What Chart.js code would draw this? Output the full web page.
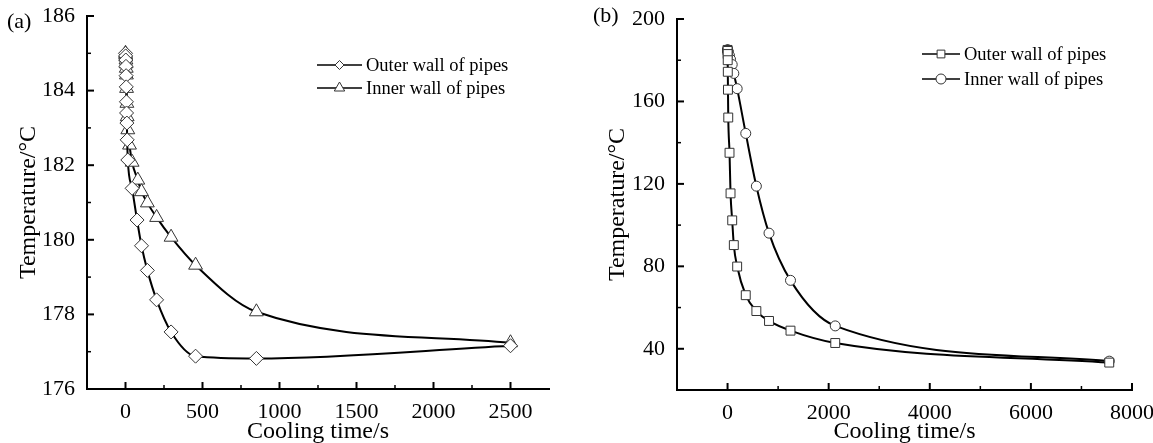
<!DOCTYPE html>
<html lang="en">
<head>
<meta charset="UTF-8">
<title>Pipe wall temperature during cooling</title>
<script src="https://cdn.jsdelivr.net/npm/chart.js"></script>
<style>
  body { margin: 0; background: #fff; }
  #wrap { position: relative; width: 1153px; height: 443px; overflow: hidden; }
  .panel { position: absolute; top: 0; }
  .tag { position: absolute; font-family: "Liberation Serif", serif; font-size: 22px; line-height: 22px; color: #000; }
</style>
</head>
<body>
<div id="wrap">
  <div class="panel" style="left:0"><canvas id="chartA" width="576" height="443"></canvas></div>
  <div class="panel" style="left:576px"><canvas id="chartB" width="577" height="443"></canvas></div>
  <div class="tag" style="left:7px;top:10px">(a)</div>
  <div class="tag" style="left:593px;top:4px">(b)</div>
</div>
<script>
// series names
const seriesNames = ['Outer wall of pipes', 'Inner wall of pipes'];

// panel (a)
const outerTimeA = [0, 1, 2, 3, 4, 5, 6, 7, 9, 11, 15, 43, 75, 104, 142, 202, 296, 455, 850, 2500];
const outerTempA = [185, 184.93, 184.82, 184.65, 184.4, 184.1, 183.7, 183.4, 183.13, 182.68, 182.14, 181.38, 180.53, 179.84, 179.18, 178.39, 177.53, 176.88, 176.82, 177.16];
const innerTimeA = [0, 1, 2, 3, 4, 5, 6, 7, 9, 11, 15, 26, 43, 80, 104, 142, 202, 296, 455, 850, 2500];
const innerTempA = [185, 184.96, 184.9, 184.82, 184.72, 184.6, 184.42, 184.06, 183.66, 183.3, 182.95, 182.54, 182.08, 181.6, 181.29, 180.99, 180.6, 180.07, 179.32, 178.07, 177.24];

// panel (b)
const timeB = [0, 1, 2, 3, 5, 8, 14, 39, 59, 92, 124, 190, 360, 570, 820, 1245, 2130, 7550];
const outerTempB = [185, 184.5, 183, 180, 174.4, 165.7, 152.2, 135.1, 115.4, 102.3, 90.3, 79.9, 66, 58.3, 53.5, 48.8, 42.8, 33.3];
const innerTempB = [185, 185, 184.9, 184.8, 184.6, 184.3, 183.8, 182.2, 180.4, 177.9, 173.6, 166.2, 144.5, 118.9, 96.1, 73.2, 51.1, 34];

// tick values
const xTicksA = [0, 500, 1000, 1500, 2000, 2500];
const xMinorA = [250, 750, 1250, 1750, 2250];
const yTicksA = [176, 178, 180, 182, 184, 186];
const yMinorA = [177, 179, 181, 183, 185];
const xTicksB = [0, 2000, 4000, 6000, 8000];
const xMinorB = [1000, 3000, 5000, 7000];
const yTicksB = [40, 80, 120, 160, 200];
const yMinorB = [60, 100, 140, 180];

const serif = '"Liberation Serif", "Times New Roman", serif';

function pairs(times, temps) {
  return times.map((t, i) => ({ x: t, y: temps[i] }));
}

function drawMarker(ctx, style, x, y, r) {
  ctx.beginPath();
  if (style === 'rectRot') {
    ctx.moveTo(x - r, y); ctx.lineTo(x, y - r); ctx.lineTo(x + r, y); ctx.lineTo(x, y + r); ctx.closePath();
  } else if (style === 'triangle') {
    const w = r * Math.sqrt(3) / 2;
    ctx.moveTo(x, y - r); ctx.lineTo(x + w, y + r / 2); ctx.lineTo(x - w, y + r / 2); ctx.closePath();
  } else if (style === 'rect') {
    const s = r * Math.SQRT1_2;
    ctx.rect(x - s, y - s, 2 * s, 2 * s);
  } else {
    ctx.arc(x, y, r, 0, Math.PI * 2);
  }
  ctx.fill();
  ctx.stroke();
}

// inward tick marks like the original plot
const innerTicks = {
  id: 'innerTicks',
  afterDraw(chart, args, opts) {
    const ctx = chart.ctx, xs = chart.scales.x, ys = chart.scales.y, area = chart.chartArea;
    ctx.save();
    ctx.strokeStyle = '#000';
    const mark = (vals, len, w, horiz) => {
      ctx.lineWidth = w;
      vals.forEach(v => {
        ctx.beginPath();
        if (horiz) {
          const px = xs.getPixelForValue(v);
          ctx.moveTo(px, area.bottom); ctx.lineTo(px, area.bottom - len);
        } else {
          const py = ys.getPixelForValue(v);
          ctx.moveTo(area.left, py); ctx.lineTo(area.left + len, py);
        }
        ctx.stroke();
      });
    };
    mark(opts.xMajor, 7, 2, true);
    mark(opts.xMinor, 4, 1.5, true);
    mark(opts.yMajor, 7, 2, false);
    mark(opts.yMinor, 4, 1.5, false);
    ctx.restore();
  }
};

// legend drawn as line + marker + text
const wallLegend = {
  id: 'wallLegend',
  afterDraw(chart, args, opts) {
    const ctx = chart.ctx;
    ctx.save();
    chart.data.datasets.forEach((ds, i) => {
      const y = opts.rows[i];
      ctx.strokeStyle = '#000';
      ctx.lineWidth = 1.5;
      ctx.beginPath();
      ctx.moveTo(opts.x, y); ctx.lineTo(opts.x + opts.len, y);
      ctx.stroke();
      ctx.fillStyle = '#fff';
      ctx.strokeStyle = '#333';
      ctx.lineWidth = 1;
      drawMarker(ctx, ds.pointStyle, opts.x + opts.len / 2, y, opts.sizes[i]);
      ctx.fillStyle = '#000';
      ctx.font = '18.5px ' + serif;
      ctx.textBaseline = 'middle';
      ctx.fillText(ds.label, opts.x + opts.len + 4, y + 1);
    });
    ctx.restore();
  }
};

function makeChart(id, c) {
  const ds = (label, data, style, r) => ({
    label: label,
    data: data,
    borderColor: '#000',
    borderWidth: 2,
    pointStyle: style,
    pointRadius: r,
    pointBackgroundColor: '#fff',
    pointBorderColor: '#333',
    pointBorderWidth: 1,
    cubicInterpolationMode: 'monotone',
    fill: false
  });
  return new Chart(document.getElementById(id), {
    type: 'line',
    data: {
      datasets: [
        ds(seriesNames[0], c.outer, c.styles[0], c.radii[0]),
        ds(seriesNames[1], c.inner, c.styles[1], c.radii[1])
      ]
    },
    options: {
      responsive: false,
      animation: false,
      layout: { padding: { left: c.padL, right: c.padR, top: c.padT, bottom: 0 } },
      plugins: {
        legend: { display: false },
        tooltip: { enabled: false },
        innerTicks: { xMajor: c.xTicks, xMinor: c.xMinor, yMajor: c.yTicks, yMinor: c.yMinor },
        wallLegend: c.legend
      },
      scales: {
        x: {
          type: 'linear',
          min: c.xMin, max: c.xMax,
          afterBuildTicks: s => { s.ticks = c.xTicks.map(v => ({ value: v })); },
          afterFit: s => { s.height = c.xH; s.paddingLeft = 0; s.paddingRight = 0; },
          grid: { display: false },
          border: { display: true, color: '#000', width: 2 },
          ticks: { color: '#000', font: { family: serif, size: 22 }, padding: 2, maxRotation: 0, autoSkip: false, callback: v => String(v) },
          title: { display: true, text: 'Cooling time/s', color: '#000', font: { family: serif, size: 24 }, padding: { top: -3, bottom: -3 } }
        },
        y: {
          min: c.yMin, max: c.yMax,
          afterBuildTicks: s => { s.ticks = c.yTicks.map(v => ({ value: v })); },
          afterFit: s => { s.width = c.yW; s.paddingTop = 0; s.paddingBottom = 0; },
          grid: { display: false },
          border: { display: true, color: '#000', width: 2 },
          ticks: { color: '#000', font: { family: serif, size: 22 }, padding: 4, autoSkip: false, callback: v => String(v) },
          title: { display: true, text: 'Temperature/°C', color: '#000', font: { family: serif, size: 24 }, padding: { top: 4, bottom: 0 } }
        }
      }
    },
    plugins: [innerTicks, wallLegend]
  });
}

makeChart('chartA', {
  outer: pairs(outerTimeA, outerTempA),
  inner: pairs(innerTimeA, innerTempA),
  styles: ['rectRot', 'triangle'], radii: [7, 8],
  xMin: -250, xMax: 2750, yMin: 176, yMax: 186,
  xTicks: xTicksA, xMinor: xMinorA, yTicks: yTicksA, yMinor: yMinorA,
  padL: 10, padR: 27, padT: 16, xH: 54, yW: 77,
  legend: { x: 317, len: 45, rows: [65, 88], sizes: [4.5, 6] }
});

makeChart('chartB', {
  outer: pairs(timeB, outerTempB),
  inner: pairs(timeB, innerTempB),
  styles: ['rect', 'circle'], radii: [6.3, 5],
  xMin: -1000, xMax: 8000, yMin: 20, yMax: 200,
  xTicks: xTicksB, xMinor: xMinorB, yTicks: yTicksB, yMinor: yMinorB,
  padL: 23, padR: 21, padT: 19, xH: 53, yW: 78,
  legend: { x: 346, len: 38, rows: [54, 79], sizes: [5.5, 5] }
});
</script>
</body>
</html>
